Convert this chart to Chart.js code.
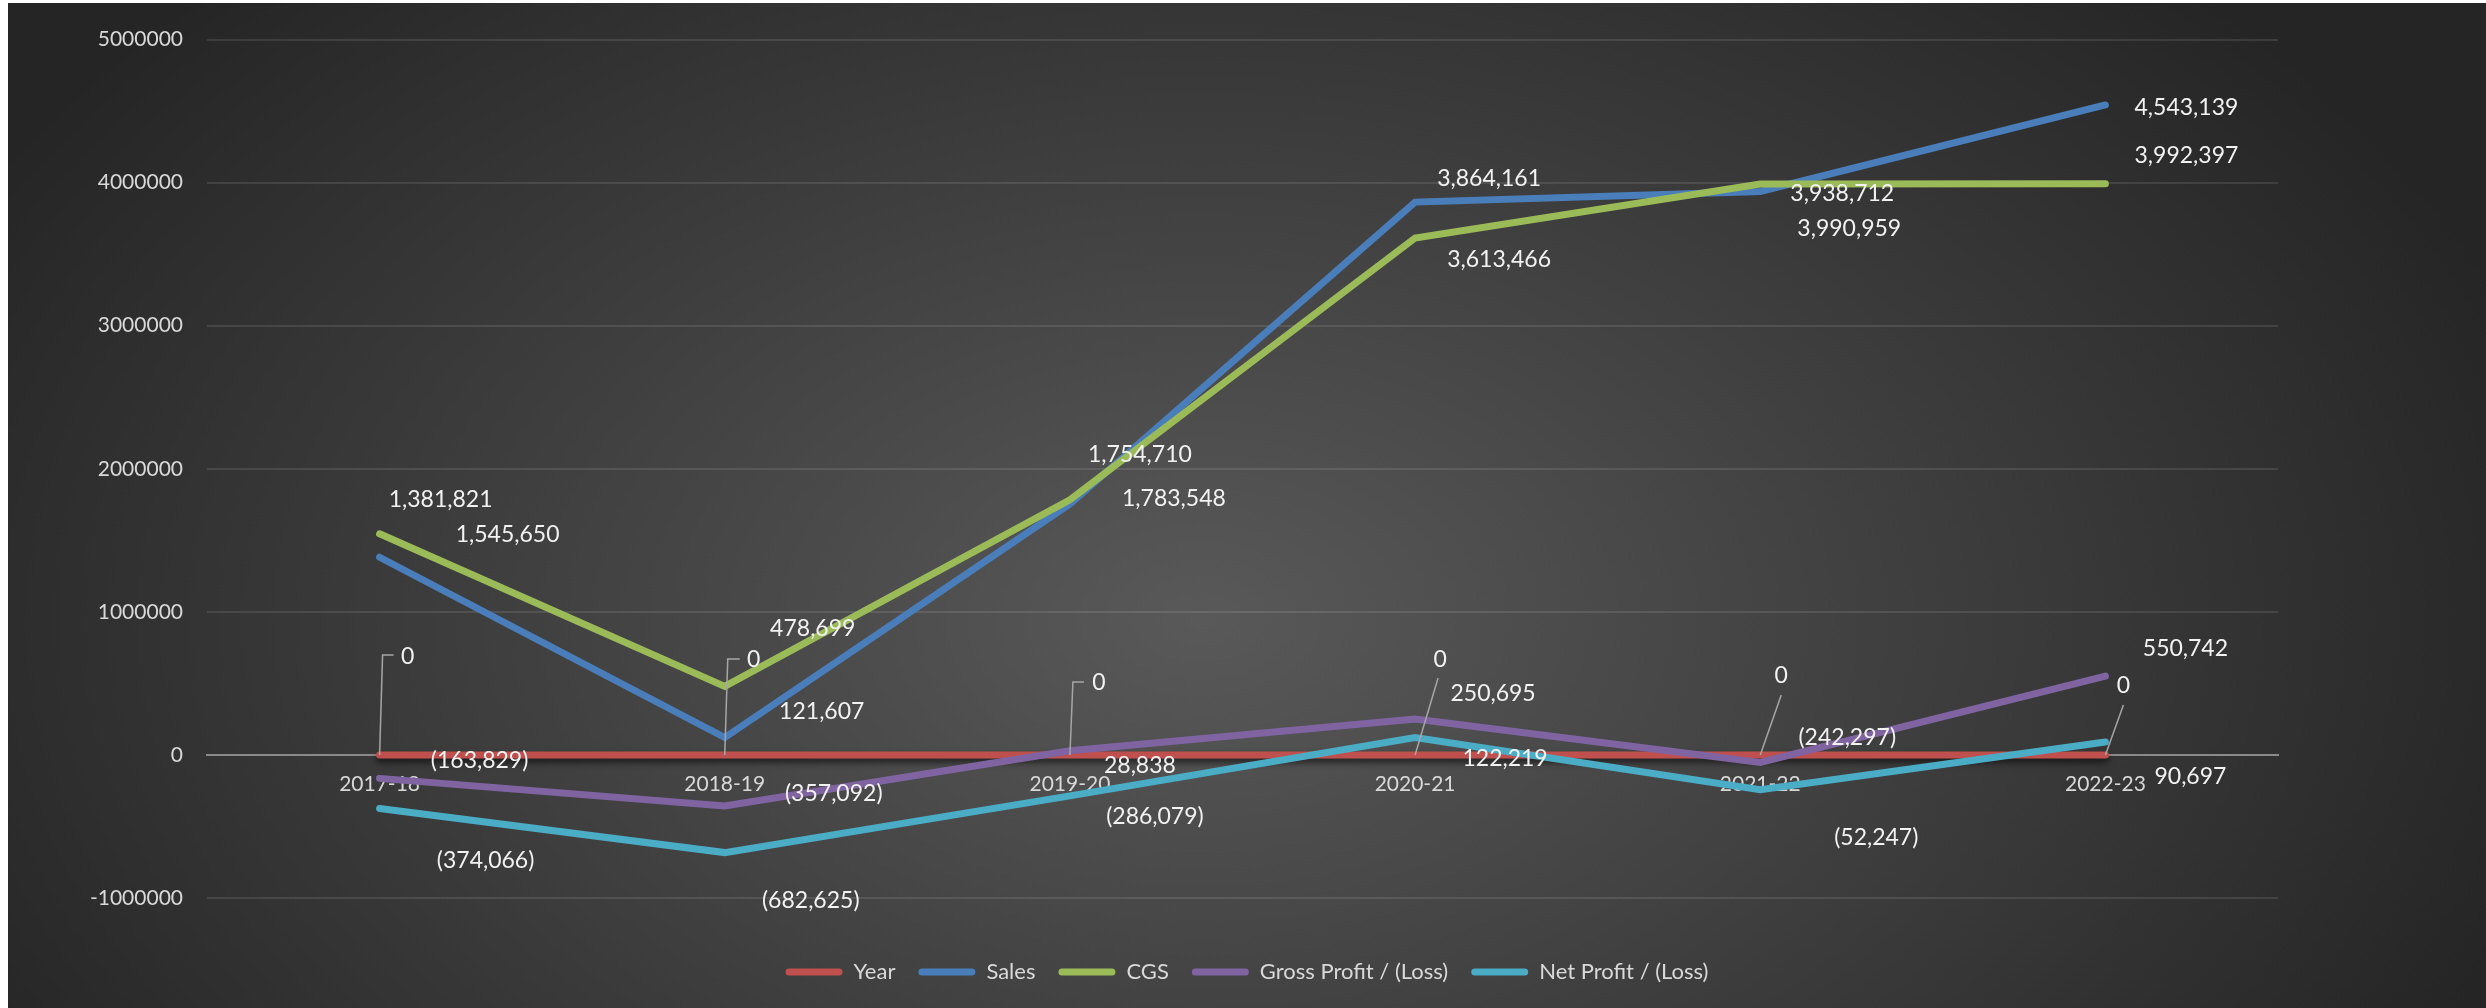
<!DOCTYPE html>
<html>
<head>
<meta charset="utf-8">
<title>Sales, CGS and Profit 2017-18 to 2022-23</title>
<script src="https://cdn.jsdelivr.net/npm/chart.js@4/dist/chart.umd.min.js"></script>
<style>
  html, body { margin: 0; padding: 0; background: #ffffff; }
  #wrap { position: absolute; left: 8px; top: 3px; width: 2478px; height: 1005px; }
</style>
</head>
<body>
<div id="wrap"><canvas id="chart" width="2478" height="1005"></canvas></div>
<script>
// ---- data ----
const years = ['2017-18', '2018-19', '2019-20', '2020-21', '2021-22', '2022-23'];
const yearSeries = [0, 0, 0, 0, 0, 0];
const sales = [1381821, 121607, 1754710, 3864161, 3938712, 4543139];
const cgs = [1545650, 478699, 1783548, 3613466, 3990959, 3992397];
const grossProfit = [-163829, -357092, 28838, 250695, -52247, 550742];
const netProfit = [-374066, -682625, -286079, 122219, -242297, 90697];
const seriesNames = ['Year', 'Sales', 'CGS', 'Gross Profit / (Loss)', 'Net Profit / (Loss)'];

// value axis
const yMin = -1000000;
const yMax = 5000000;
const yStep = 1000000;

// ---- styling ----
const seriesColors = ['#C0504D', '#4A7EBB', '#9BBB59', '#8064A2', '#4BACC6'];

// where each value label sits, relative to its point (px)
const labelOffsets = [
  [[28, -98], [29, -95], [29, -72], [25, -95], [21, -79], [18, -69]],
  [[61, -58], [97, -26], [70, -49], [74, -24], [82, 2], [81, 3]],
  [[128, 1], [88, -58], [104, -1], [84, 22], [89, 45], [81, -28]],
  [[100, -18], [109, -12], [70, 15], [78, -25], [116, 75], [80, -28]],
  [[106, 52], [86, 48], [85, 21], [90, 21], [87, -52], [85, 35]]
];
// leader lines from the Year points up to their "0" labels
const yearLeaders = [
  [[0, 0], [3, -100], [14, -100]],
  [[0, 0], [3, -96], [15, -96]],
  [[0, 0], [3, -73], [14, -73]],
  [[0, 0], [23, -77]],
  [[0, 0], [21, -60]],
  [[0, 0], [18, -50]]
];

function formatValue(v) {
  const s = Math.abs(v).toLocaleString('en-US');
  return v < 0 ? '(' + s + ')' : s;
}

const FONT = 'Lato, "Open Sans", sans-serif';

// soft elliptical spotlight behind the whole chart
const backgroundPlugin = {
  id: 'spotBackground',
  beforeDraw(chart) {
    const ctx = chart.ctx;
    ctx.save();
    ctx.translate(1192, 617);
    ctx.scale(1, 0.64);
    const g = ctx.createRadialGradient(0, 0, 0, 0, 0, 1400);
    g.addColorStop(0, '#595959');
    g.addColorStop(1, '#252525');
    ctx.fillStyle = g;
    ctx.fillRect(-4000, -4000, 8000, 8000);
    ctx.restore();
  }
};

// drop shadow under the Year line
const shadowPlugin = {
  id: 'yearShadow',
  beforeDatasetDraw(chart, args) {
    if (args.index !== 0) return;
    const ctx = chart.ctx;
    ctx.save();
    ctx.shadowColor = 'rgba(0,0,0,0.6)';
    ctx.shadowBlur = 6;
    ctx.shadowOffsetY = 4;
  },
  afterDatasetDraw(chart, args) {
    if (args.index !== 0) return;
    chart.ctx.restore();
  }
};

// value labels and leader lines
const valueLabelPlugin = {
  id: 'valueLabels',
  afterDatasetsDraw(chart) {
    const ctx = chart.ctx;
    ctx.save();
    const yearMeta = chart.getDatasetMeta(0);
    ctx.strokeStyle = '#a6a6a6';
    ctx.lineWidth = 1.5;
    yearMeta.data.forEach((pt, j) => {
      ctx.beginPath();
      yearLeaders[j].forEach(([dx, dy], k) => {
        if (k === 0) ctx.moveTo(pt.x + dx, pt.y + dy);
        else ctx.lineTo(pt.x + dx, pt.y + dy);
      });
      ctx.stroke();
    });
    ctx.font = '23px ' + FONT;
    ctx.fillStyle = '#f2f2f2';
    ctx.textAlign = 'center';
    ctx.textBaseline = 'middle';
    chart.data.datasets.forEach((ds, i) => {
      const meta = chart.getDatasetMeta(i);
      meta.data.forEach((pt, j) => {
        const [dx, dy] = labelOffsets[i][j];
        ctx.fillText(formatValue(ds.data[j]), pt.x + dx, pt.y + dy);
      });
    });
    ctx.restore();
  }
};

const seriesData = [yearSeries, sales, cgs, grossProfit, netProfit];
const datasets = seriesData.map((values, i) => ({
  label: seriesNames[i],
  data: values,
  borderColor: seriesColors[i],
  backgroundColor: seriesColors[i],
  borderWidth: 7,
  pointRadius: 0,
  pointHoverRadius: 0,
  borderCapStyle: 'round',
  borderJoinStyle: 'miter',
  tension: 0,
  order: seriesData.length - i
}));

new Chart(document.getElementById('chart'), {
  type: 'line',
  data: { labels: years, datasets },
  plugins: [backgroundPlugin, shadowPlugin, valueLabelPlugin],
  options: {
    responsive: false,
    animation: false,
    events: [],
    layout: { padding: { left: 0, top: 36, right: 0, bottom: 15 } },
    scales: {
      y: {
        min: yMin,
        max: yMax,
        ticks: {
          stepSize: yStep,
          color: '#d9d9d9',
          font: { family: FONT, size: 21 },
          padding: 24,
          callback: v => String(v)
        },
        grid: { color: 'rgba(255,255,255,0.1)', lineWidth: 2, drawTicks: false },
        border: { display: false },
        afterFit: s => { s.width = 199; }
      },
      yRight: {
        position: 'right',
        display: true,
        grid: { display: false, drawTicks: false },
        border: { display: false },
        ticks: { display: false },
        afterFit: s => { s.width = 208; }
      },
      x: {
        type: 'category',
        offset: true,
        position: { y: 0 },
        grid: { display: false, drawTicks: false },
        border: { display: true, color: '#8a8a8a', width: 2 },
        ticks: {
          color: '#d9d9d9',
          font: { family: FONT, size: 21 },
          padding: 17,
          maxRotation: 0,
          autoSkip: false
        }
      }
    },
    plugins: {
      tooltip: { enabled: false },
      legend: {
        position: 'bottom',
        title: { display: true, text: '', font: { size: 20 }, padding: { top: 0, bottom: 16 } },
        labels: {
          color: '#d9d9d9',
          font: { family: FONT, size: 22 },
          boxWidth: 57,
          boxHeight: 7,
          padding: 23,
          useBorderRadius: true,
          borderRadius: 3.5,
          sort: (a, b) => a.datasetIndex - b.datasetIndex,
          generateLabels: chart => Chart.defaults.plugins.legend.labels.generateLabels(chart).map(item => {
            item.lineWidth = 0;
            item.borderRadius = 3.5;
            return item;
          })
        }
      }
    }
  }
});
</script>
</body>
</html>
